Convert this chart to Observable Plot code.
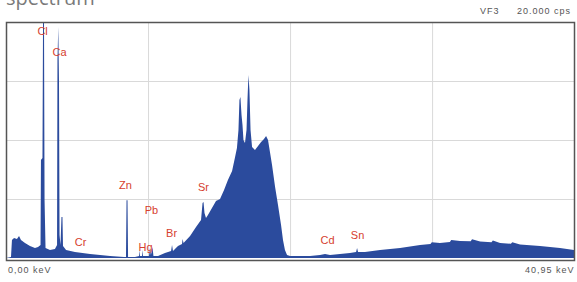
<!DOCTYPE html>
<html>
<head>
<meta charset="utf-8">
<script src="https://cdn.jsdelivr.net/npm/d3@7"></script>
<script src="https://cdn.jsdelivr.net/npm/@observablehq/plot@0.6"></script>
<style>
  html, body { margin: 0; padding: 0; background: #fff; }
  #wrap { position: relative; width: 577px; height: 282px; overflow: hidden; font-family: "Liberation Sans", Arial, sans-serif; }
  #title { position: absolute; left: 6px; top: -12px; font-family: "Open Sans", sans-serif; font-size: 20px; line-height: 20px; color: #7a7a7a; }
  .small { position: absolute; font-size: 9px; line-height: 10px; color: #555; letter-spacing: 1px; white-space: nowrap; }
  #chart { position: absolute; left: 0; top: 0; }
</style>
</head>
<body>
<div id="wrap">
  <div id="chart"></div>
  <div id="title">spectrum</div>
  <div class="small" id="vf">VF3</div>
  <div class="small" id="cps">20.000 cps</div>
  <div class="small" id="kmin">0,00 keV</div>
  <div class="small" id="kmax">40,95 keV</div>
</div>
<script>
// Spectrum: energy (keV) and count rate (cps)
const energy = [0, 0.36, 0.43, 0.58, 0.79, 0.94, 1.08, 1.37, 1.73, 2.09, 2.31, 2.49, 2.52, 2.63, 2.67, 2.74, 2.78, 2.85, 3.17, 3.53, 3.68, 3.71, 3.77, 3.82, 3.86, 3.93, 4.0, 4.07, 4.11, 4.33, 4.97, 6.06, 7.5, 8.51, 8.65, 8.69, 8.76, 8.8, 9.3, 9.59, 9.63, 9.66, 9.81, 9.84, 9.88, 10.31, 10.38, 10.45, 10.56, 10.63, 10.96, 11.46, 11.9, 11.97, 12.04, 12.4, 12.69, 12.73, 12.8, 13.27, 13.7, 14.06, 14.17, 14.24, 14.31, 14.42, 14.56, 14.85, 15.14, 15.43, 15.72, 16.0, 16.3, 16.5, 16.65, 16.76, 16.83, 16.9, 16.98, 17.05, 17.12, 17.23, 17.34, 17.41, 17.48, 17.55, 17.63, 17.74, 17.95, 18.17, 18.39, 18.6, 18.75, 18.89, 19.03, 19.18, 19.4, 19.61, 19.83, 19.97, 20.11, 20.26, 20.48, 21.2, 21.92, 22.64, 23.0, 23.36, 24.08, 24.8, 25.24, 25.31, 25.38, 25.88, 26.97, 28.41, 29.85, 30.6, 30.7, 31.29, 32.0, 32.1, 32.73, 33.5, 33.6, 34.18, 35.0, 35.1, 35.62, 36.4, 36.5, 37.06, 38.5, 39.94, 40.95];
const counts = [0, 80, 1525, 1695, 1610, 1865, 1525, 1270, 1015, 850, 930, 1100, 8300, 8475, 20000, 20000, 4900, 850, 680, 760, 1100, 16780, 19580, 15085, 1950, 1100, 3475, 3475, 1015, 680, 510, 340, 170, 85, 85, 4900, 4900, 85, 85, 170, 680, 170, 170, 680, 170, 170, 850, 255, 930, 170, 170, 425, 595, 1100, 595, 1015, 1185, 1610, 1270, 1865, 2630, 3220, 4660, 4745, 3810, 3390, 3645, 4240, 4830, 5000, 5760, 6610, 7370, 8475, 9320, 10850, 13390, 13645, 12120, 11270, 10000, 9745, 10850, 13390, 15510, 14240, 10850, 9410, 9150, 9490, 9830, 10085, 10340, 10000, 8980, 7880, 6020, 4490, 2800, 1525, 680, 255, 170, 170, 170, 255, 340, 255, 340, 425, 510, 850, 510, 510, 680, 850, 1100, 1180, 1330, 1270, 1350, 1520, 1440, 1420, 1580, 1400, 1330, 1480, 1270, 1200, 1330, 1145, 1015, 850, 680];

// Element labels
const labelNames = ["Cl", "Ca", "Cr", "Zn", "Pb", "Hg", "Br", "Sr", "Cd", "Sn"];
const labelKeV   = [2.6, 3.82, 5.34, 8.58, 10.45, 10.02, 11.9, 14.2, 23.14, 25.31];
const labelCps   = [19240, 17460, 1356, 6187, 4068, 932, 2119, 6017, 1525, 1950];

// Grid positions
const gridKeV = [10.24, 20.48, 30.72];
const gridCps = [5000, 10000, 15000];

const spectrum = energy.map((e, i) => ({e, c: counts[i]}));
const labels = labelNames.map((n, i) => ({n, x: labelKeV[i], y: labelCps[i]}));

const chart = Plot.plot({
  width: 577,
  height: 282,
  marginTop: 22,
  marginBottom: 24,
  marginLeft: 6,
  marginRight: 3,
  x: {domain: [0, 40.95], axis: null},
  y: {domain: [0, 20000], axis: null},
  style: {background: "transparent", fontFamily: "'Liberation Sans', Arial, sans-serif"},
  marks: [
    Plot.gridX(gridKeV, {stroke: "#d9d9d9", strokeOpacity: 1, strokeWidth: 1}),
    Plot.gridY(gridCps, {stroke: "#d9d9d9", strokeOpacity: 1, strokeWidth: 1}),
    Plot.areaY(spectrum, {x: "e", y: "c", fill: "#2b4b9d", curve: "linear", clip: true}),
    Plot.text(labels, {x: "x", y: "y", text: "n", fill: "#d6402e", fontSize: 11}),
    Plot.frame({stroke: "#555", strokeWidth: 1.5, insetBottom: -2})
  ]
});
document.getElementById("chart").appendChild(chart);

const place = (id, left, top) => { const el = document.getElementById(id); el.style.left = left + "px"; el.style.top = top + "px"; };
place("vf", 480, 6);
place("cps", 517, 6);
place("kmin", 8, 265);
place("kmax", 525, 265);
</script>
</body>
</html>
